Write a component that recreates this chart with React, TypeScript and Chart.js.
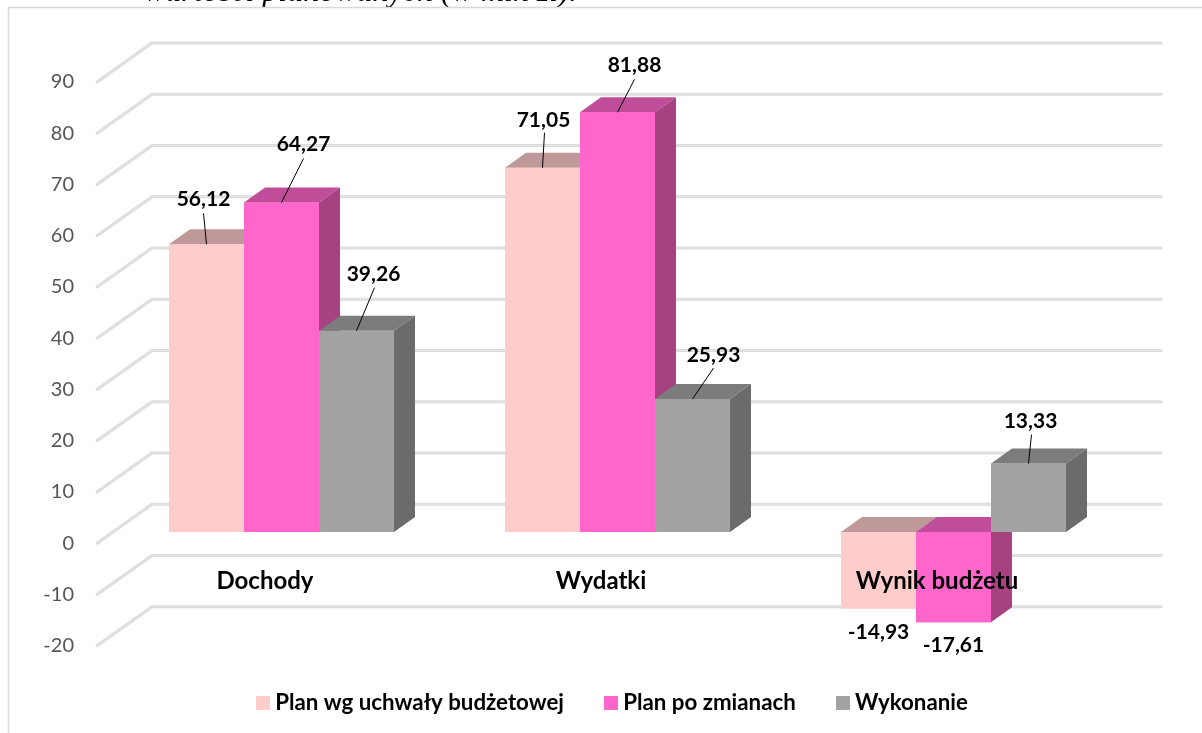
import React, { useEffect, useRef } from "react";
import { Chart, registerables } from "chart.js";

Chart.register(...registerables);

const WIDTH = 1202;
const HEIGHT = 733;
const UI_FONT = "Lato, Carlito, sans-serif";

const categories = ["Dochody", "Wydatki", "Wynik budżetu"];
const seriesNames = ["Plan wg uchwały budżetowej", "Plan po zmianach", "Wykonanie"];
const planBudget = [56.12, 71.05, -14.93];
const planChanged = [64.27, 81.88, -17.61];
const execution = [39.26, 25.93, 13.33];
const tickValues = [90, 80, 70, 60, 50, 40, 30, 20, 10, 0, -10, -20];
const clippedHeading = "wartości planowanych (w mln zł).";

const frontColors = ["#FFCCCC", "#FF66CC", "#A3A3A3"];
const topColors = ["#BF9999", "#BF4D99", "#7C7C7C"];
const sideColors = ["#A68585", "#A5427F", "#6B6B6B"];

// Label centre and leader-line end, relative to the top centre of each bar's front face.
const labelOffsets = [
  [{ t: [-3, -45], l: [-3, -31] }, { t: [22, -58], l: [22, -44] }, { t: [17, -56], l: [18, -43] }],
  [{ t: [1, -48], l: [2, -35] }, { t: [17, -47], l: [17, -33] }, { t: [21, -44], l: [21, -31] }],
  [{ t: [0, 24], l: null }, { t: [0, 23], l: null }, { t: [2, -42], l: [3, -29] }],
];

const DEPTH_X = 21;
const DEPTH_Y = -15;
const WALL_LEFT = 97;
const WALL_BACK = 152;
const WALL_RIGHT = 1161;
const WALL_RISE = -39;

function swatch(color: string) {
  const c = document.createElement("canvas");
  c.width = 14;
  c.height = 14;
  const g = c.getContext("2d")!;
  g.fillStyle = color;
  g.fillRect(0, 0, 14, 14);
  return c;
}

const scene3d = {
  id: "scene3d",
  afterLayout(chart: any) {
    const lg = chart.legend;
    const h = lg.height;
    lg.top = 646;
    lg.bottom = lg.top + h;
    const w = lg.right - lg.left;
    lg.left = 615 - w / 2;
    lg.right = lg.left + w;
  },
  beforeDraw(chart: any) {
    const ctx = chart.ctx;
    ctx.save();
    ctx.fillStyle = "#fff";
    ctx.fillRect(0, 0, WIDTH, HEIGHT);
    ctx.beginPath();
    ctx.rect(0, 0, WIDTH, 7);
    ctx.clip();
    ctx.fillStyle = "#000";
    ctx.font = "italic 32px 'Liberation Serif', serif";
    ctx.textBaseline = "alphabetic";
    ctx.textAlign = "left";
    ctx.fillText(clippedHeading, 144, 0.7);
    ctx.restore();

    ctx.save();
    ctx.strokeStyle = "#D9D9D9";
    ctx.lineWidth = 1.5;
    ctx.beginPath();
    ctx.moveTo(8.5, HEIGHT);
    ctx.lineTo(8.5, 7.5);
    ctx.lineTo(WIDTH, 7.5);
    ctx.stroke();
    ctx.restore();
  },
  beforeDatasetsDraw(chart: any) {
    const ctx = chart.ctx;
    const scale = chart.scales.yLabels;
    ctx.save();
    ctx.lineCap = "round";
    ctx.lineJoin = "round";
    for (const tick of scale.ticks) {
      const p = scale.getPixelForValue(tick.value);
      const path = () => {
        ctx.beginPath();
        ctx.moveTo(WALL_LEFT, p);
        ctx.lineTo(WALL_BACK, p + WALL_RISE);
        ctx.lineTo(WALL_RIGHT, p + WALL_RISE);
      };
      ctx.strokeStyle = "#D9D9D9";
      ctx.lineWidth = 3;
      path();
      ctx.stroke();
      ctx.strokeStyle = "#E8E8E8";
      ctx.lineWidth = 1;
      path();
      ctx.stroke();
    }
    ctx.restore();
  },
  afterDatasetsDraw(chart: any) {
    const ctx = chart.ctx;
    chart.data.datasets.forEach((_: any, di: number) => {
      const meta = chart.getDatasetMeta(di);
      meta.data.forEach((bar: any) => {
        const { x, y, base, width } = bar.getProps(["x", "y", "base", "width"]);
        const left = x - width / 2;
        const right = x + width / 2;
        const top = Math.min(y, base);
        const bottom = Math.max(y, base);
        ctx.fillStyle = sideColors[di];
        ctx.beginPath();
        ctx.moveTo(right, top);
        ctx.lineTo(right + DEPTH_X, top + DEPTH_Y);
        ctx.lineTo(right + DEPTH_X, bottom + DEPTH_Y);
        ctx.lineTo(right, bottom);
        ctx.closePath();
        ctx.fill();
        ctx.fillStyle = topColors[di];
        ctx.beginPath();
        ctx.moveTo(left, top);
        ctx.lineTo(left + DEPTH_X, top + DEPTH_Y);
        ctx.lineTo(right + DEPTH_X, top + DEPTH_Y);
        ctx.lineTo(right, top);
        ctx.closePath();
        ctx.fill();
        bar.draw(ctx);
      });
    });
  },
  afterDraw(chart: any) {
    const ctx = chart.ctx;
    ctx.save();
    ctx.font = `bold 21px ${UI_FONT}`;
    ctx.textAlign = "center";
    ctx.textBaseline = "middle";
    chart.data.datasets.forEach((ds: any, di: number) => {
      chart.getDatasetMeta(di).data.forEach((bar: any, ci: number) => {
        const { x, y } = bar.getProps(["x", "y"]);
        const off = labelOffsets[ci][di];
        if (off.l) {
          ctx.strokeStyle = "#000";
          ctx.lineWidth = 1;
          ctx.beginPath();
          ctx.moveTo(x, y);
          ctx.lineTo(x + off.l[0], y + off.l[1]);
          ctx.stroke();
        }
        ctx.fillStyle = "#000";
        ctx.fillText(String(ds.data[ci]).replace(".", ","), x + off.t[0], y + off.t[1]);
      });
    });
    ctx.restore();
  },
};

export default function App() {
  const ref = useRef<HTMLCanvasElement>(null);
  useEffect(() => {
    const seriesValues = [planBudget, planChanged, execution];
    const chart = new Chart(ref.current!, {
      type: "bar",
      data: {
        labels: categories,
        datasets: seriesNames.map((label, i) => ({
          label,
          data: seriesValues[i],
          backgroundColor: frontColors[i],
          borderWidth: 0,
          yAxisID: "y",
          categoryPercentage: 0.6696,
          barPercentage: 1,
        })),
      },
      options: {
        responsive: false,
        animation: false,
        layout: { padding: { top: 43, right: 80.5, bottom: 9, left: 0 } },
        plugins: {
          title: { display: false },
          tooltip: { enabled: false },
          legend: {
            position: "bottom",
            labels: {
              usePointStyle: true,
              pointStyleWidth: 2,
              boxHeight: 14,
              padding: 46,
              color: "#000",
              font: { family: UI_FONT, size: 22.3, weight: "bold" },
              generateLabels: (c: any) =>
                Chart.defaults.plugins.legend.labels.generateLabels(c).map((item: any, i: number) => ({
                  ...item,
                  pointStyle: swatch(frontColors[i]),
                })),
            },
          },
        },
        scales: {
          x: {
            position: { y: -6 } as any,
            grid: { display: false, drawTicks: false },
            border: { display: false },
            ticks: {
              z: 1,
              color: "#000",
              font: { family: UI_FONT, size: 24, weight: "bold" },
              labelOffset: -16.5,
              padding: 4,
              maxRotation: 0,
              autoSkip: false,
            },
          },
          y: { display: false, min: -22.2, max: 95.4 },
          yLabels: {
            axis: "y",
            position: "left",
            min: -20,
            max: 97.6,
            afterBuildTicks: (s: any) => {
              s.ticks = tickValues.map((value) => ({ value }));
            },
            afterFit: (s: any) => {
              s.width = 113.5;
            },
            grid: { display: false, drawOnChartArea: false, drawTicks: true, tickLength: 39.5, tickColor: "transparent" },
            border: { display: false },
            ticks: {
              color: "#555555",
              font: { family: UI_FONT, size: 20 },
              padding: 0,
              callback: (v: any) => String(v),
            },
          },
        },
      } as any,
      plugins: [scene3d],
    });
    return () => chart.destroy();
  }, []);
  return (
    <canvas
      ref={ref}
      width={WIDTH}
      height={HEIGHT}
      style={{ position: "absolute", left: 0, top: 0, display: "block" }}
    />
  );
}
